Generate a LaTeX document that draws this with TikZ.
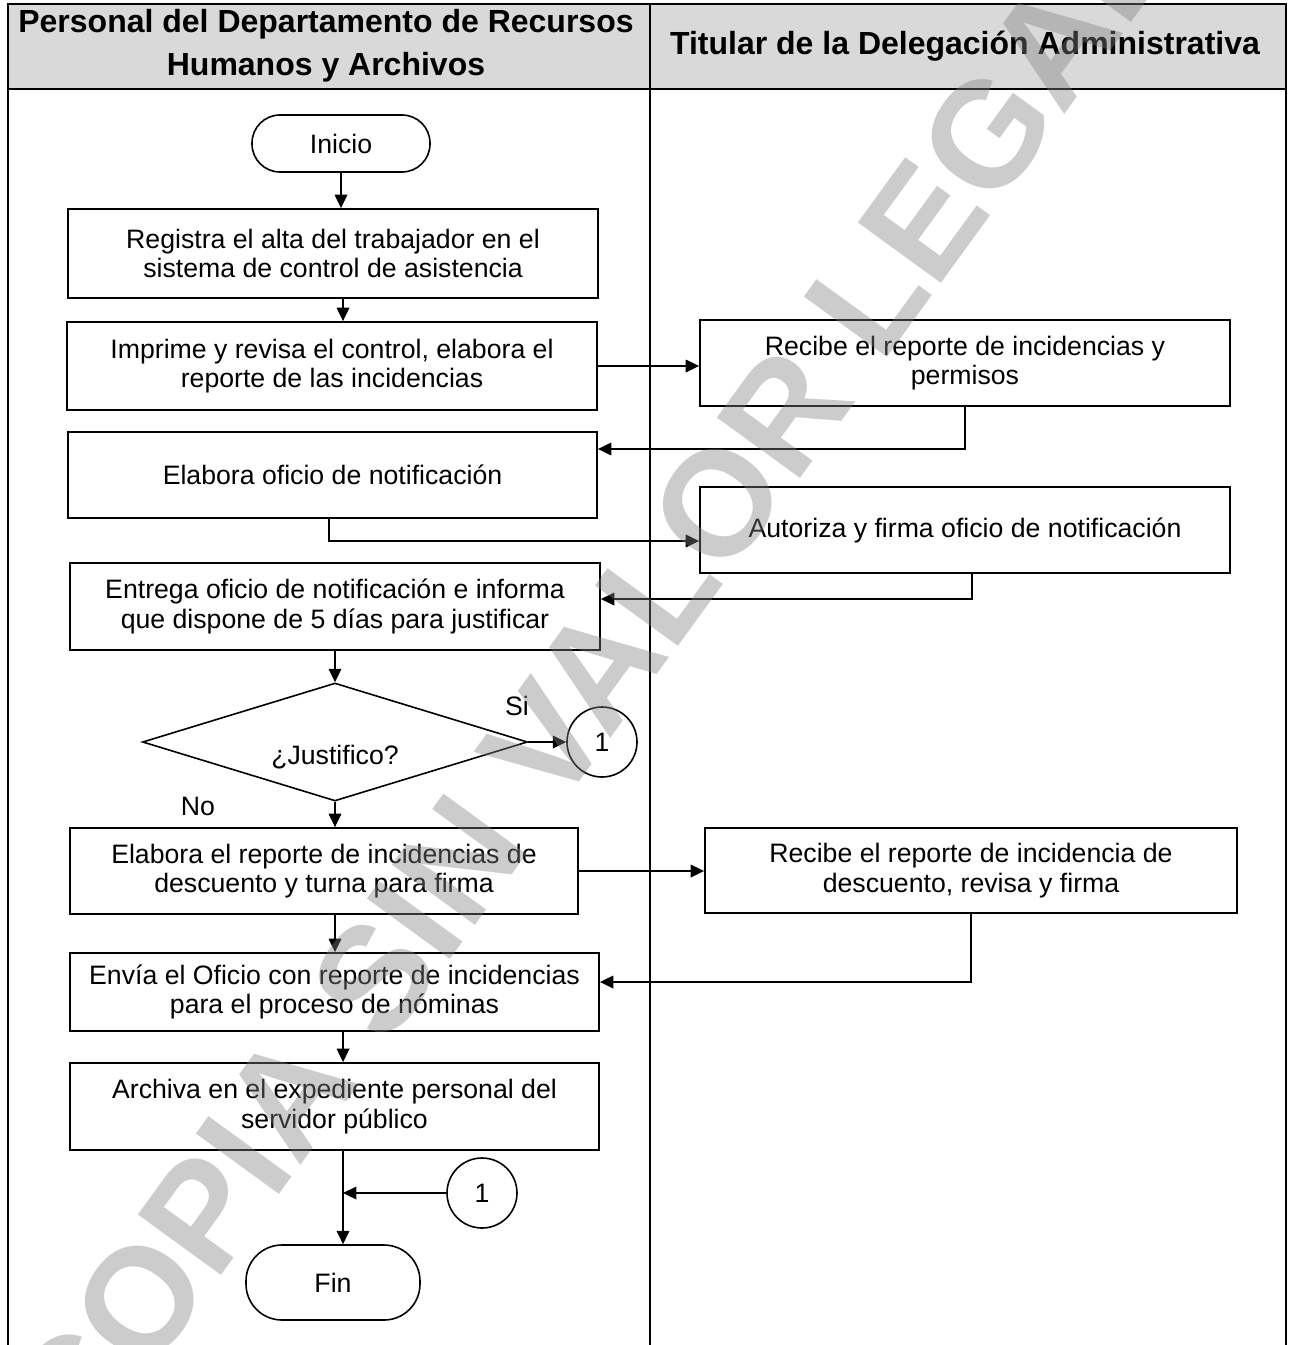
\documentclass[tikz,border=0pt]{standalone}
\usepackage{fontspec}
\setmainfont{Liberation Sans}
\usetikzlibrary{shapes.geometric,arrows.meta,calc}
\definecolor{hdrgray}{HTML}{D9D9D9}
\begin{document}
\begin{tikzpicture}[x=0.75pt,y=-0.75pt,
  box/.style={draw, line width=1.4pt, inner sep=0pt, align=center, minimum width=397.5pt, minimum height=65pt, font=\fontsize{20}{22}\selectfont},
  term/.style={draw, rounded corners=21pt, line width=1.2pt, inner sep=0pt, font=\fontsize{20}{22}\selectfont},
  conn/.style={draw, circle, line width=1.2pt, minimum size=52.5pt, inner sep=0pt, font=\fontsize{20}{22}\selectfont},
  arr/.style={line width=0.9pt, -{Triangle[length=10pt,width=9.5pt]}},
  hdr/.style={font=\bfseries\fontsize{24}{32.5}\selectfont, align=center},
  lbl/.style={font=\fontsize{20}{22}\selectfont, inner sep=0pt},
  frame/.style={line width=2.2pt}]
\useasboundingbox (0,0) rectangle (1291,1345);
% header and lanes
\fill[hdrgray] (8,4) rectangle (1286,89);
\draw[frame] (8,1345) -- (8,4) -- (1286,4) -- (1286,1345);
\draw[frame] (8,89) -- (1286,89);
\draw[frame] (650,4) -- (650,1345);
\node[hdr] (h1) at (326,46) {Personal del Departamento de Recursos\\Humanos y Archivos};
\node[hdr] (h2) at (965,46) {Titular de la Delegación Administrativa};
% nodes
\node[term, minimum width=133.5pt, minimum height=42.75pt] (ini) at (341,143.5) {Inicio};
\node[box, minimum height=66.75pt] (reg) at (333,253.5) {Registra el alta del trabajador en el\\sistema de control de asistencia};
\node[box, minimum height=66pt] (imp) at (332,366) {Imprime y revisa el control, elabora el\\reporte de las incidencias};
\node[box, minimum height=64.5pt] (rec1) at (965,363) {Recibe el reporte de incidencias y\\permisos};
\node[box, minimum width=396.75pt, minimum height=64.5pt] (ofi) at (332.5,475) {Elabora oficio de notificación};
\node[box, minimum height=64.5pt] (aut) at (965,530) {Autoriza y firma oficio de notificación};
\node[box, minimum height=65.25pt] (ent) at (335,606.5) {Entrega oficio de notificación e informa\\que dispone de 5 días para justificar};
\node[diamond, draw, line width=1.2pt, minimum width=288.75pt, minimum height=88.5pt, inner sep=0pt] (dia) at (335,742) {};
\node[lbl] (q) at (335,757) {¿Justifico?};
\node[conn] (c1) at (602,742) {1};
\node[lbl] (si) at (517,706) {Si};
\node[lbl] (no) at (198,806) {No};
\node[box, minimum width=381pt, minimum height=64.5pt] (rep) at (324,871) {Elabora el reporte de incidencias de\\descuento y turna para firma};
\node[box, minimum width=399pt, minimum height=63.75pt] (rec2) at (971,870.5) {Recibe el reporte de incidencia de\\descuento, revisa y firma};
\node[box, minimum width=396.75pt, minimum height=58.5pt] (env) at (334.5,992) {Envía el Oficio con reporte de incidencias\\para el proceso de nóminas};
\node[box, minimum width=396.75pt, minimum height=65.25pt] (arc) at (334.5,1106.5) {Archiva en el expediente personal del\\servidor público};
\node[conn] (c2) at (482,1193) {1};
\node[term, rounded corners=27pt, minimum width=130.5pt, minimum height=56.25pt] (fin) at (333,1282.5) {Fin};
\coordinate (jn) at ([xshift=6.4pt]arc.south);
% connectors
\draw[arr] (ini.south) -- (ini.south |- reg.north);
\draw[arr] ([xshift=7.5pt]reg.south) -- ([xshift=7.5pt]reg.south |- imp.north);
\draw[arr] (imp.east) -- (imp.east -| rec1.west);
\draw[arr] (rec1.south) |- ([yshift=19.5pt]ofi.east);
\draw[arr] ([xshift=-2.6pt]ofi.south) |- ([yshift=-8.25pt]aut.west);
\draw[arr] ([xshift=5.25pt]aut.south) |- ([yshift=5.6pt]ent.east);
\draw[arr] (ent.south) -- (dia.north);
\draw[arr] (dia.east) -- (c1.west);
\draw[arr] (dia.south) -- (dia.south |- rep.north);
\draw[arr] (rep.east) -- (rep.east -| rec2.west);
\draw[arr] (rec2.south) |- ([yshift=7.5pt]env.east);
\draw[arr] (dia.south |- rep.south) -- (dia.south |- env.north);
\draw[arr] ([xshift=6.4pt]env.south) -- ([xshift=6.4pt]env.south |- arc.north);
\draw[arr] (jn) -- (jn |- fin.north);
\draw[arr] (c2.west) -- (c2.west -| jn);
% watermark
\node[rotate=54, font=\bfseries\fontsize{112}{112}\selectfont, text=black!50, opacity=0.4, inner sep=0pt] (wm) at (590,680) {COPIA SIN VALOR LEGAL};
\end{tikzpicture}
\end{document}
